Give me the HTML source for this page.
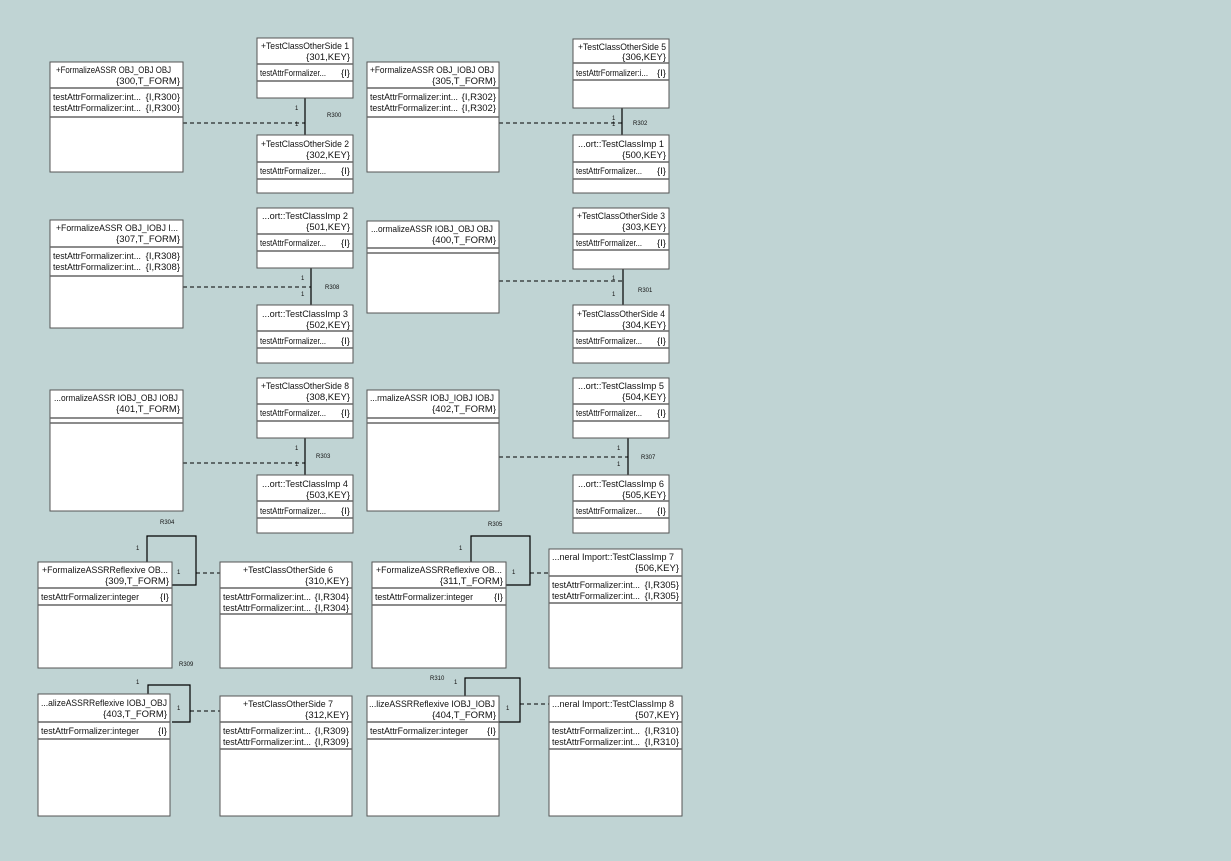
<!DOCTYPE html>
<html><head><meta charset="utf-8"><style>
html,body{margin:0;padding:0;background:#c0d4d4;}
svg{display:block;}
text{font-family:"Liberation Sans",sans-serif;font-size:9.5px;fill:#111;}
.s{font-size:6px;}
rect.b{fill:#fff;stroke:#555;stroke-width:1;}
line.sp{stroke:#666;stroke-width:1.5;}
.c{stroke:#000;stroke-width:1.2;fill:none;}
.d{stroke:#000;stroke-width:1;stroke-dasharray:4,3;fill:none;}
</style></head><body>
<svg width="1231" height="861" xmlns="http://www.w3.org/2000/svg">
<rect width="1231" height="861" fill="#c0d4d4"/>

<line class="d" x1="183" y1="123" x2="305" y2="123"/>
<line class="c" x1="305" y1="98" x2="305" y2="135"/>
<text class="s" x="295" y="110">1</text><text class="s" x="295" y="126">1</text><text class="s" x="327" y="117">R300</text>

<line class="d" x1="499" y1="123" x2="622" y2="123"/>
<line class="c" x1="622" y1="108" x2="622" y2="135"/>
<text class="s" x="612" y="120">1</text><text class="s" x="612" y="126">1</text><text class="s" x="633" y="125">R302</text>

<line class="d" x1="183" y1="287" x2="311" y2="287"/>
<line class="c" x1="311" y1="268" x2="311" y2="305"/>
<text class="s" x="301" y="280">1</text><text class="s" x="301" y="296">1</text><text class="s" x="325" y="289">R308</text>

<line class="d" x1="499" y1="281" x2="623" y2="281"/>
<line class="c" x1="623" y1="268" x2="623" y2="305"/>
<text class="s" x="612" y="280">1</text><text class="s" x="612" y="296">1</text><text class="s" x="638" y="292">R301</text>

<line class="d" x1="183" y1="463" x2="305" y2="463"/>
<line class="c" x1="305" y1="438" x2="305" y2="475"/>
<text class="s" x="295" y="450">1</text><text class="s" x="295" y="466">1</text><text class="s" x="316" y="458">R303</text>

<line class="d" x1="499" y1="457" x2="628" y2="457"/>
<line class="c" x1="628" y1="438" x2="628" y2="475"/>
<text class="s" x="617" y="450">1</text><text class="s" x="617" y="466">1</text><text class="s" x="641" y="459">R307</text>

<polyline class="c" points="147,562 147,536 196,536 196,585 172,585"/>
<line class="d" x1="196" y1="573" x2="220" y2="573"/>
<text class="s" x="136" y="550">1</text><text class="s" x="177" y="574">1</text><text class="s" x="160" y="524">R304</text>

<polyline class="c" points="471,562 471,536 530,536 530,585 506,585"/>
<line class="d" x1="530" y1="573" x2="549" y2="573"/>
<text class="s" x="459" y="550">1</text><text class="s" x="512" y="574">1</text><text class="s" x="488" y="526">R305</text>

<polyline class="c" points="148,694 148,685 190,685 190,722 172,722"/>
<line class="d" x1="190" y1="711" x2="220" y2="711"/>
<text class="s" x="136" y="684">1</text><text class="s" x="177" y="710">1</text><text class="s" x="179" y="666">R309</text>

<polyline class="c" points="465,696 465,678 520,678 520,722 499,722"/>
<line class="d" x1="520" y1="704" x2="549" y2="704"/>
<text class="s" x="454" y="684">1</text><text class="s" x="506" y="710">1</text><text class="s" x="430" y="680">R310</text>

<rect class="b" x="50" y="62" width="133" height="110"/>
<line class="sp" x1="50" y1="88" x2="183" y2="88"/><line class="sp" x1="50" y1="117" x2="183" y2="117"/>
<text x="56" y="73" textLength="115" lengthAdjust="spacingAndGlyphs">+FormalizeASSR OBJ_OBJ OBJ</text>
<text x="180" y="84" text-anchor="end">{300,T_FORM}</text>
<text x="53" y="100" textLength="88" lengthAdjust="spacingAndGlyphs">testAttrFormalizer:int...</text><text x="180" y="100" text-anchor="end">{I,R300}</text>
<text x="53" y="111" textLength="88" lengthAdjust="spacingAndGlyphs">testAttrFormalizer:int...</text><text x="180" y="111" text-anchor="end">{I,R300}</text>

<rect class="b" x="257" y="38" width="96" height="60"/>
<line class="sp" x1="257" y1="64" x2="353" y2="64"/><line class="sp" x1="257" y1="81" x2="353" y2="81"/>
<text x="261" y="49" textLength="88" lengthAdjust="spacingAndGlyphs">+TestClassOtherSide 1</text>
<text x="350" y="60" text-anchor="end">{301,KEY}</text>
<text x="260" y="76" textLength="66" lengthAdjust="spacingAndGlyphs">testAttrFormalizer...</text><text x="350" y="76" text-anchor="end">{I}</text>

<rect class="b" x="257" y="135" width="96" height="58"/>
<line class="sp" x1="257" y1="162" x2="353" y2="162"/><line class="sp" x1="257" y1="179" x2="353" y2="179"/>
<text x="261" y="147" textLength="88" lengthAdjust="spacingAndGlyphs">+TestClassOtherSide 2</text>
<text x="350" y="158" text-anchor="end">{302,KEY}</text>
<text x="260" y="174" textLength="66" lengthAdjust="spacingAndGlyphs">testAttrFormalizer...</text><text x="350" y="174" text-anchor="end">{I}</text>

<rect class="b" x="367" y="62" width="132" height="110"/>
<line class="sp" x1="367" y1="88" x2="499" y2="88"/><line class="sp" x1="367" y1="117" x2="499" y2="117"/>
<text x="370" y="73" textLength="124" lengthAdjust="spacingAndGlyphs">+FormalizeASSR OBJ_IOBJ OBJ</text>
<text x="496" y="84" text-anchor="end">{305,T_FORM}</text>
<text x="370" y="100" textLength="88" lengthAdjust="spacingAndGlyphs">testAttrFormalizer:int...</text><text x="496" y="100" text-anchor="end">{I,R302}</text>
<text x="370" y="111" textLength="88" lengthAdjust="spacingAndGlyphs">testAttrFormalizer:int...</text><text x="496" y="111" text-anchor="end">{I,R302}</text>

<rect class="b" x="573" y="39" width="96" height="69"/>
<line class="sp" x1="573" y1="63" x2="669" y2="63"/><line class="sp" x1="573" y1="80" x2="669" y2="80"/>
<text x="578" y="50" textLength="88" lengthAdjust="spacingAndGlyphs">+TestClassOtherSide 5</text>
<text x="666" y="60" text-anchor="end">{306,KEY}</text>
<text x="576" y="76" textLength="72" lengthAdjust="spacingAndGlyphs">testAttrFormalizer:i...</text><text x="666" y="76" text-anchor="end">{I}</text>

<rect class="b" x="573" y="135" width="96" height="58"/>
<line class="sp" x1="573" y1="162" x2="669" y2="162"/><line class="sp" x1="573" y1="179" x2="669" y2="179"/>
<text x="578" y="147" textLength="86" lengthAdjust="spacingAndGlyphs">...ort::TestClassImp 1</text>
<text x="666" y="158" text-anchor="end">{500,KEY}</text>
<text x="576" y="174" textLength="66" lengthAdjust="spacingAndGlyphs">testAttrFormalizer...</text><text x="666" y="174" text-anchor="end">{I}</text>

<rect class="b" x="50" y="220" width="133" height="108"/>
<line class="sp" x1="50" y1="247" x2="183" y2="247"/><line class="sp" x1="50" y1="276" x2="183" y2="276"/>
<text x="56" y="231" textLength="122" lengthAdjust="spacingAndGlyphs">+FormalizeASSR OBJ_IOBJ I...</text>
<text x="180" y="242" text-anchor="end">{307,T_FORM}</text>
<text x="53" y="259" textLength="88" lengthAdjust="spacingAndGlyphs">testAttrFormalizer:int...</text><text x="180" y="259" text-anchor="end">{I,R308}</text>
<text x="53" y="270" textLength="88" lengthAdjust="spacingAndGlyphs">testAttrFormalizer:int...</text><text x="180" y="270" text-anchor="end">{I,R308}</text>

<rect class="b" x="257" y="208" width="96" height="60"/>
<line class="sp" x1="257" y1="234" x2="353" y2="234"/><line class="sp" x1="257" y1="251" x2="353" y2="251"/>
<text x="262" y="219" textLength="86" lengthAdjust="spacingAndGlyphs">...ort::TestClassImp 2</text>
<text x="350" y="230" text-anchor="end">{501,KEY}</text>
<text x="260" y="246" textLength="66" lengthAdjust="spacingAndGlyphs">testAttrFormalizer...</text><text x="350" y="246" text-anchor="end">{I}</text>

<rect class="b" x="257" y="305" width="96" height="58"/>
<line class="sp" x1="257" y1="331" x2="353" y2="331"/><line class="sp" x1="257" y1="348" x2="353" y2="348"/>
<text x="262" y="317" textLength="86" lengthAdjust="spacingAndGlyphs">...ort::TestClassImp 3</text>
<text x="350" y="328" text-anchor="end">{502,KEY}</text>
<text x="260" y="344" textLength="66" lengthAdjust="spacingAndGlyphs">testAttrFormalizer...</text><text x="350" y="344" text-anchor="end">{I}</text>

<rect class="b" x="367" y="221" width="132" height="92"/>
<line class="sp" x1="367" y1="248" x2="499" y2="248"/><line class="sp" x1="367" y1="253" x2="499" y2="253"/>
<text x="371" y="232" textLength="122" lengthAdjust="spacingAndGlyphs">...ormalizeASSR IOBJ_OBJ OBJ</text>
<text x="496" y="243" text-anchor="end">{400,T_FORM}</text>

<rect class="b" x="573" y="208" width="96" height="61"/>
<line class="sp" x1="573" y1="234" x2="669" y2="234"/><line class="sp" x1="573" y1="250" x2="669" y2="250"/>
<text x="577" y="219" textLength="88" lengthAdjust="spacingAndGlyphs">+TestClassOtherSide 3</text>
<text x="666" y="230" text-anchor="end">{303,KEY}</text>
<text x="576" y="246" textLength="66" lengthAdjust="spacingAndGlyphs">testAttrFormalizer...</text><text x="666" y="246" text-anchor="end">{I}</text>

<rect class="b" x="573" y="305" width="96" height="58"/>
<line class="sp" x1="573" y1="331" x2="669" y2="331"/><line class="sp" x1="573" y1="348" x2="669" y2="348"/>
<text x="577" y="317" textLength="88" lengthAdjust="spacingAndGlyphs">+TestClassOtherSide 4</text>
<text x="666" y="328" text-anchor="end">{304,KEY}</text>
<text x="576" y="344" textLength="66" lengthAdjust="spacingAndGlyphs">testAttrFormalizer...</text><text x="666" y="344" text-anchor="end">{I}</text>

<rect class="b" x="50" y="390" width="133" height="121"/>
<line class="sp" x1="50" y1="418" x2="183" y2="418"/><line class="sp" x1="50" y1="423" x2="183" y2="423"/>
<text x="54" y="401" textLength="124" lengthAdjust="spacingAndGlyphs">...ormalizeASSR IOBJ_OBJ IOBJ</text>
<text x="180" y="412" text-anchor="end">{401,T_FORM}</text>

<rect class="b" x="257" y="378" width="96" height="60"/>
<line class="sp" x1="257" y1="404" x2="353" y2="404"/><line class="sp" x1="257" y1="421" x2="353" y2="421"/>
<text x="261" y="389" textLength="88" lengthAdjust="spacingAndGlyphs">+TestClassOtherSide 8</text>
<text x="350" y="400" text-anchor="end">{308,KEY}</text>
<text x="260" y="416" textLength="66" lengthAdjust="spacingAndGlyphs">testAttrFormalizer...</text><text x="350" y="416" text-anchor="end">{I}</text>

<rect class="b" x="257" y="475" width="96" height="58"/>
<line class="sp" x1="257" y1="501" x2="353" y2="501"/><line class="sp" x1="257" y1="518" x2="353" y2="518"/>
<text x="262" y="487" textLength="86" lengthAdjust="spacingAndGlyphs">...ort::TestClassImp 4</text>
<text x="350" y="498" text-anchor="end">{503,KEY}</text>
<text x="260" y="514" textLength="66" lengthAdjust="spacingAndGlyphs">testAttrFormalizer...</text><text x="350" y="514" text-anchor="end">{I}</text>

<rect class="b" x="367" y="390" width="132" height="121"/>
<line class="sp" x1="367" y1="418" x2="499" y2="418"/><line class="sp" x1="367" y1="423" x2="499" y2="423"/>
<text x="370" y="401" textLength="124" lengthAdjust="spacingAndGlyphs">...rmalizeASSR IOBJ_IOBJ IOBJ</text>
<text x="496" y="412" text-anchor="end">{402,T_FORM}</text>

<rect class="b" x="573" y="378" width="96" height="60"/>
<line class="sp" x1="573" y1="404" x2="669" y2="404"/><line class="sp" x1="573" y1="421" x2="669" y2="421"/>
<text x="578" y="389" textLength="86" lengthAdjust="spacingAndGlyphs">...ort::TestClassImp 5</text>
<text x="666" y="400" text-anchor="end">{504,KEY}</text>
<text x="576" y="416" textLength="66" lengthAdjust="spacingAndGlyphs">testAttrFormalizer...</text><text x="666" y="416" text-anchor="end">{I}</text>

<rect class="b" x="573" y="475" width="96" height="58"/>
<line class="sp" x1="573" y1="501" x2="669" y2="501"/><line class="sp" x1="573" y1="518" x2="669" y2="518"/>
<text x="578" y="487" textLength="86" lengthAdjust="spacingAndGlyphs">...ort::TestClassImp 6</text>
<text x="666" y="498" text-anchor="end">{505,KEY}</text>
<text x="576" y="514" textLength="66" lengthAdjust="spacingAndGlyphs">testAttrFormalizer...</text><text x="666" y="514" text-anchor="end">{I}</text>

<rect class="b" x="38" y="562" width="134" height="106"/>
<line class="sp" x1="38" y1="588" x2="172" y2="588"/><line class="sp" x1="38" y1="605" x2="172" y2="605"/>
<text x="42" y="573" textLength="126" lengthAdjust="spacingAndGlyphs">+FormalizeASSRReflexive OB...</text>
<text x="169" y="584" text-anchor="end">{309,T_FORM}</text>
<text x="41" y="600" textLength="98" lengthAdjust="spacingAndGlyphs">testAttrFormalizer:integer</text><text x="169" y="600" text-anchor="end">{I}</text>

<rect class="b" x="220" y="562" width="132" height="106"/>
<line class="sp" x1="220" y1="588" x2="352" y2="588"/><line class="sp" x1="220" y1="614" x2="352" y2="614"/>
<text x="243" y="573" textLength="90" lengthAdjust="spacingAndGlyphs">+TestClassOtherSide 6</text>
<text x="349" y="584" text-anchor="end">{310,KEY}</text>
<text x="223" y="600" textLength="88" lengthAdjust="spacingAndGlyphs">testAttrFormalizer:int...</text><text x="349" y="600" text-anchor="end">{I,R304}</text>
<text x="223" y="611" textLength="88" lengthAdjust="spacingAndGlyphs">testAttrFormalizer:int...</text><text x="349" y="611" text-anchor="end">{I,R304}</text>

<rect class="b" x="372" y="562" width="134" height="106"/>
<line class="sp" x1="372" y1="588" x2="506" y2="588"/><line class="sp" x1="372" y1="605" x2="506" y2="605"/>
<text x="376" y="573" textLength="126" lengthAdjust="spacingAndGlyphs">+FormalizeASSRReflexive OB...</text>
<text x="503" y="584" text-anchor="end">{311,T_FORM}</text>
<text x="375" y="600" textLength="98" lengthAdjust="spacingAndGlyphs">testAttrFormalizer:integer</text><text x="503" y="600" text-anchor="end">{I}</text>

<rect class="b" x="549" y="549" width="133" height="119"/>
<line class="sp" x1="549" y1="576" x2="682" y2="576"/><line class="sp" x1="549" y1="603" x2="682" y2="603"/>
<text x="552" y="560" textLength="122" lengthAdjust="spacingAndGlyphs">...neral Import::TestClassImp 7</text>
<text x="679" y="571" text-anchor="end">{506,KEY}</text>
<text x="552" y="588" textLength="88" lengthAdjust="spacingAndGlyphs">testAttrFormalizer:int...</text><text x="679" y="588" text-anchor="end">{I,R305}</text>
<text x="552" y="599" textLength="88" lengthAdjust="spacingAndGlyphs">testAttrFormalizer:int...</text><text x="679" y="599" text-anchor="end">{I,R305}</text>

<rect class="b" x="38" y="694" width="132" height="122"/>
<line class="sp" x1="38" y1="722" x2="170" y2="722"/><line class="sp" x1="38" y1="739" x2="170" y2="739"/>
<text x="41" y="706" textLength="126" lengthAdjust="spacingAndGlyphs">...alizeASSRReflexive IOBJ_OBJ</text>
<text x="167" y="717" text-anchor="end">{403,T_FORM}</text>
<text x="41" y="734" textLength="98" lengthAdjust="spacingAndGlyphs">testAttrFormalizer:integer</text><text x="167" y="734" text-anchor="end">{I}</text>

<rect class="b" x="220" y="696" width="132" height="120"/>
<line class="sp" x1="220" y1="722" x2="352" y2="722"/><line class="sp" x1="220" y1="749" x2="352" y2="749"/>
<text x="243" y="707" textLength="90" lengthAdjust="spacingAndGlyphs">+TestClassOtherSide 7</text>
<text x="349" y="718" text-anchor="end">{312,KEY}</text>
<text x="223" y="734" textLength="88" lengthAdjust="spacingAndGlyphs">testAttrFormalizer:int...</text><text x="349" y="734" text-anchor="end">{I,R309}</text>
<text x="223" y="745" textLength="88" lengthAdjust="spacingAndGlyphs">testAttrFormalizer:int...</text><text x="349" y="745" text-anchor="end">{I,R309}</text>

<rect class="b" x="367" y="696" width="132" height="120"/>
<line class="sp" x1="367" y1="722" x2="499" y2="722"/><line class="sp" x1="367" y1="739" x2="499" y2="739"/>
<text x="369" y="707" textLength="126" lengthAdjust="spacingAndGlyphs">...lizeASSRReflexive IOBJ_IOBJ</text>
<text x="496" y="718" text-anchor="end">{404,T_FORM}</text>
<text x="370" y="734" textLength="98" lengthAdjust="spacingAndGlyphs">testAttrFormalizer:integer</text><text x="496" y="734" text-anchor="end">{I}</text>

<rect class="b" x="549" y="696" width="133" height="120"/>
<line class="sp" x1="549" y1="722" x2="682" y2="722"/><line class="sp" x1="549" y1="749" x2="682" y2="749"/>
<text x="552" y="707" textLength="122" lengthAdjust="spacingAndGlyphs">...neral Import::TestClassImp 8</text>
<text x="679" y="718" text-anchor="end">{507,KEY}</text>
<text x="552" y="734" textLength="88" lengthAdjust="spacingAndGlyphs">testAttrFormalizer:int...</text><text x="679" y="734" text-anchor="end">{I,R310}</text>
<text x="552" y="745" textLength="88" lengthAdjust="spacingAndGlyphs">testAttrFormalizer:int...</text><text x="679" y="745" text-anchor="end">{I,R310}</text>
</svg>
</body></html>
